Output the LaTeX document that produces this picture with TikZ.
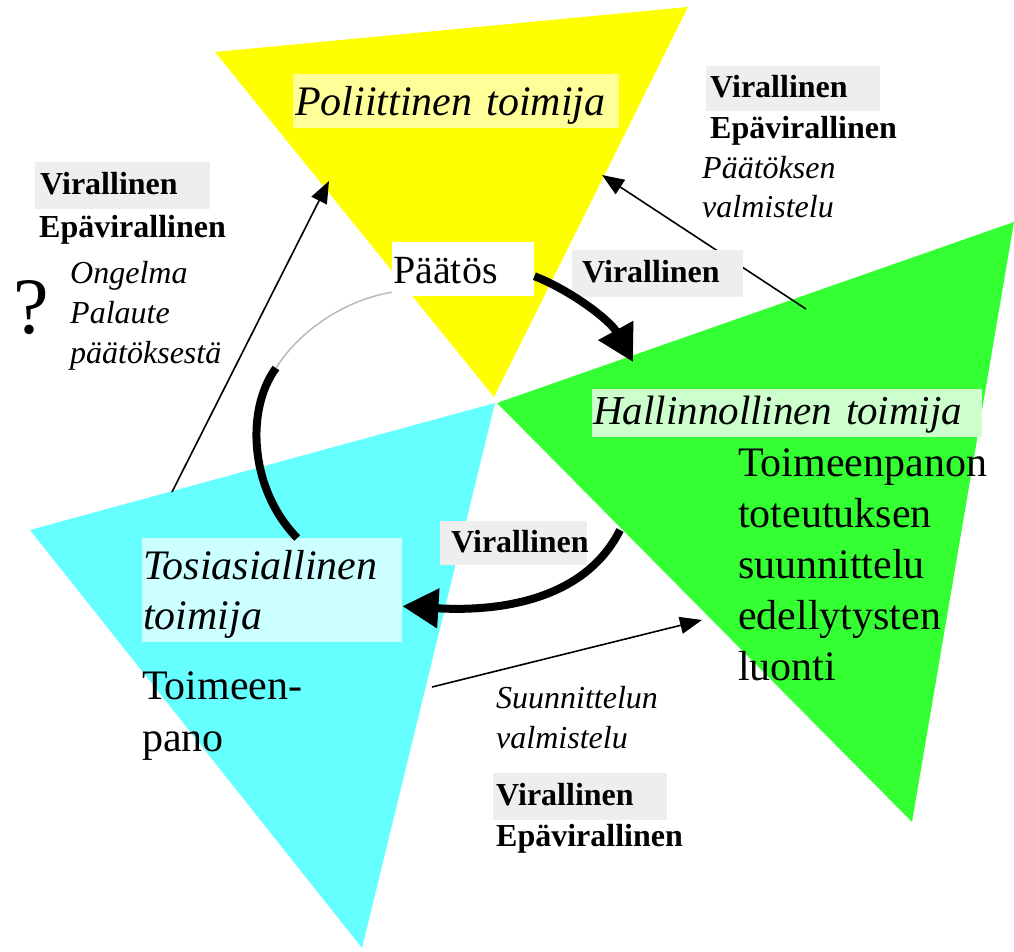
\documentclass[tikz,border=0pt]{standalone}
\usepackage{fontspec}
\setmainfont{Liberation Serif}
\usetikzlibrary{arrows.meta}
\definecolor{polyellow}{HTML}{FFFF00}
\definecolor{admgreen}{HTML}{33FF33}
\definecolor{realcyan}{HTML}{66FFFF}
\definecolor{polbox}{HTML}{FFFF99}
\definecolor{admbox}{HTML}{CCFFCC}
\definecolor{realbox}{HTML}{CCFFFF}
\definecolor{boxgray}{HTML}{EEEEEE}
\newcommand{\setfs}[2]{\fontsize{#1}{#2}\selectfont}

\begin{document}
\begin{tikzpicture}[x=1pt,y=-1pt,
    lbl/.style={inner sep=0pt,anchor=base west},
    multilbl/.style={inner sep=0pt,anchor=north west,align=left},
    hbox/.style={anchor=north west,inner ysep=0pt},
    vbox/.style={hbox,fill=boxgray,font=\bfseries\setfs{32}{40},text height=26pt,text depth=8pt},
    boldlbl/.style={font=\bfseries\setfs{32}{40}},
    itlbl/.style={font=\itshape\setfs{32}{40}},
    thinarrow/.style={line width=1.6pt,-{Triangle[length=22pt,width=17pt]}},
    thickarrow/.style={line width=8pt,-{Triangle[length=36pt,width=38pt]}}]
\useasboundingbox (0,0) rectangle (1014,952);

% the three actors
\fill[polyellow] (215,52) -- (688,7) -- (494,397) -- cycle;
\fill[admgreen] (497,403) -- (1014,222) -- (912,822) -- cycle;
\fill[realcyan] (30,530) -- (495,403) -- (362,948) -- cycle;

% preparation arrows, under the labels
\coordinate (prepStart) at (806,309);
\coordinate (polEdge) at (602,175);
\coordinate (fbStart) at (172,492);
\coordinate (fbEnd) at (329,181);
\coordinate (planStart) at (432,687);
\coordinate (admEdge) at (702,620);
\draw[thinarrow] (prepStart) -- (polEdge);
\draw[thinarrow] (fbStart) -- (fbEnd);
\draw[thinarrow] (planStart) -- (admEdge);

% actor names
\node[hbox,fill=polbox,inner xsep=2pt,text width=322pt,minimum height=54pt,text height=32pt,text depth=4pt,font=\itshape\setfs{42}{50}] (pol) at (293,74) {Poliittinen toimija};
\node[hbox,fill=admbox,inner xsep=1pt,text width=388pt,minimum height=48pt,text height=29pt,text depth=7pt,font=\itshape\setfs{41}{50}] (adm) at (592,389) {Hallinnollinen toimija};
\node[hbox,fill=realbox,inner xsep=1pt,text width=258pt,minimum height=104pt,font=\itshape\setfs{42}{50}] (real) at (142,538) {\rule{0pt}{38pt}Tosiasiallinen\\toimija};
\node[hbox,fill=white,inner xsep=1pt,text width=140pt,minimum height=54pt,text height=32pt,text depth=4pt,font=\setfs{40}{48}] (paatos) at (392,242) {Päätös};

% formal / informal
\node[vbox,inner xsep=4pt,text width=166pt,minimum height=45pt] (virTR) at (706,66) {Virallinen};
\node[lbl,boldlbl] (epaTR) at (710,139) {Epävirallinen};
\node[multilbl,font=\itshape\setfs{32}{39}] (prepDec) at (702,156) {Päätöksen\\valmistelu};

\node[vbox,inner xsep=5pt,text width=165pt,minimum height=47pt] (virL) at (35,162) {Virallinen};
\node[lbl,boldlbl] (epaL) at (39,237) {Epävirallinen};
\node[lbl,font=\setfs{80}{90}] (quest) at (13,333) {?};
\node[multilbl,itlbl] (problem) at (70,261) {Ongelma\\Palaute\\päätöksestä};

\node[vbox,inner xsep=10pt,text width=151pt,minimum height=47pt] (virM) at (572,250) {Virallinen};
\node[vbox,inner xsep=11pt,text width=125pt,minimum height=44pt] (virC) at (440,521) {Virallinen};

\node[vbox,inner xsep=3pt,text width=168pt,minimum height=47pt] (virB) at (493,773) {Virallinen};
\node[lbl,boldlbl] (epaB) at (496,846) {Epävirallinen};
\node[multilbl,itlbl] (prepPlan) at (496,686) {Suunnittelun\\valmistelu};

% tasks
\node[multilbl,font=\setfs{42}{51}] (admTasks) at (738,448) {Toimeenpanon\\toteutuksen\\suunnittelu\\edellytysten\\luonti};
\node[multilbl,font=\setfs{42}{52}] (realTask) at (142,671) {Toimeen-\\pano};

% the decision loop
\coordinate (decEnd) at (633,362);
\coordinate (implStart) at (620,530);
\coordinate (loopTop) at (276,368);
\draw[thickarrow] ([yshift=-7pt]paatos.east) .. controls (570,290) and (610,320) .. (decEnd);
\draw[thickarrow] (implStart) .. controls (585,600) and (500,612) .. ([yshift=-16pt]real.east);
\draw[line width=8pt] ([xshift=25pt]real.north) .. controls (250,490) and (245,410) .. (loopTop);
\draw[gray!55,line width=1.5pt] (loopTop) .. controls (300,330) and (345,300) .. ([yshift=-23pt]paatos.west);
\end{tikzpicture}
\end{document}
